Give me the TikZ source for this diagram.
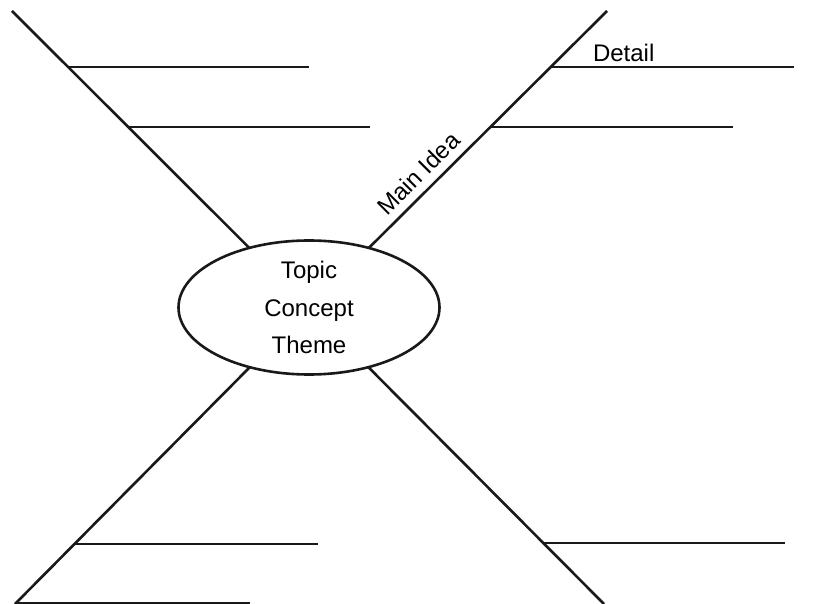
\documentclass[tikz,border=0pt]{standalone}
\usepackage{fontspec}
\setmainfont{Liberation Sans}
\usetikzlibrary{shapes.geometric}
\begin{document}
\begin{tikzpicture}[x=1pt,y=-1pt,
  ln/.style={line width=2.6pt,draw=black!90},
  lbl/.style={font=\fontsize{24}{37.5}\selectfont,inner sep=0pt,outer sep=0pt}]
\useasboundingbox (0,0) rectangle (838,604);
% central ellipse
\node[ellipse,ln,minimum width=261pt,minimum height=134pt,inner sep=0pt,outer sep=0pt,
  align=center,font=\fontsize{24}{37.5}\selectfont] (ell) at (309,307.5)
  {Topic\\Concept\\Theme};
% diagonal ends
\coordinate (tl) at (12,11);
\coordinate (tr) at (607,11);
\coordinate (bl) at (15,604);
\coordinate (br) at (604,604);
\draw[ln] (ell) -- (tl);
\draw[ln] (ell) -- (tr);
\draw[ln] (ell) -- (bl);
\draw[ln] (ell) -- (br);
% upper-left details
\coordinate (ula) at (68,67);   \coordinate (ulae) at (309,67);
\coordinate (ulb) at (128,127); \coordinate (ulbe) at (370,127);
\draw[ln] (ula) -- (ulae);
\draw[ln] (ulb) -- (ulbe);
% upper-right details
\coordinate (ura) at (551,67);  \coordinate (urae) at (794,67);
\coordinate (urb) at (491,127); \coordinate (urbe) at (733,127);
\draw[ln] (ura) -- (urae);
\draw[ln] (urb) -- (urbe);
% lower-left details
\coordinate (lla) at (75,544);  \coordinate (llae) at (318,544);
\coordinate (llb) at (16,603);  \coordinate (llbe) at (250,603);
\draw[ln] (lla) -- (llae);
\draw[ln] (llb) -- (llbe);
% lower-right detail
\coordinate (lra) at (543,543); \coordinate (lrae) at (785,543);
\draw[ln] (lra) -- (lrae);
% labels
\node[lbl,anchor=base west] (detail) at (593,62) {Detail};
\node[lbl,anchor=base,rotate=45] (mainidea) at (424.4,179.4) {Main Idea};
\end{tikzpicture}
\end{document}
